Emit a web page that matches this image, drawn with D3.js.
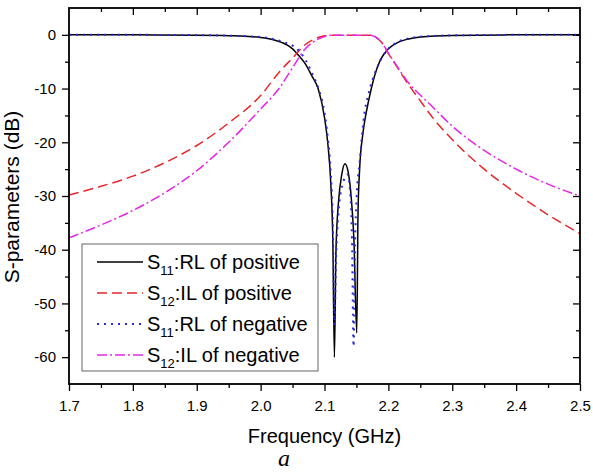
<!DOCTYPE html>
<html>
<head>
<meta charset="utf-8">
<style>
  body { margin: 0; background: #fff; }
  svg text { font-family: "Liberation Sans", Arial, sans-serif; fill: #000; }
  .axis .domain { display: none; }
  .axis line { stroke: #000; stroke-width: 1.3; }
</style>
</head>
<body>
<svg width="593" height="475"></svg>
<script src="https://cdn.jsdelivr.net/npm/d3@7"></script>
<script>

// frequency (GHz) and S-parameter (dB)
var s11PosF  = [1.70, 1.80, 1.90, 1.95, 1.97, 2.00, 2.02, 2.04, 2.05, 2.06, 2.07, 2.08, 2.09, 2.10, 2.105, 2.11, 2.113, 2.1155, 2.118, 2.122, 2.127, 2.132, 2.137, 2.142, 2.146, 2.1505, 2.1525, 2.155, 2.16, 2.163, 2.169, 2.18, 2.187, 2.20, 2.215, 2.23, 2.25, 2.30, 2.40, 2.50];
var s11PosDb = [0, 0, -0.05, -0.15, -0.2, -0.5, -0.9, -1.8, -2.6, -3.9, -5.4, -7.6, -10, -15.4, -20, -28, -38, -60, -40, -31, -26, -24, -25.5, -30.5, -38, -55.5, -33, -25, -18.5, -16, -12.3, -7, -4.8, -2.6, -1.4, -0.8, -0.4, -0.1, 0, 0];

var s12PosF  = [1.70, 1.75, 1.80, 1.85, 1.90, 1.95, 2.00, 2.03, 2.05, 2.07, 2.09, 2.10, 2.11, 2.17, 2.18, 2.19, 2.20, 2.21, 2.22, 2.23, 2.25, 2.27, 2.30, 2.35, 2.40, 2.45, 2.50];
var s12PosDb = [-29.8, -28.2, -26.3, -23.8, -20.6, -16.4, -11.3, -6.8, -4.3, -1.8, -0.5, -0.15, -0.05, -0.05, -0.4, -1.5, -3.5, -5.3, -7.2, -9, -12.3, -15.5, -19.5, -25, -29.5, -33.5, -37];

var s11NegF  = [1.70, 1.80, 1.90, 1.95, 2.00, 2.02, 2.04, 2.05, 2.06, 2.07, 2.08, 2.09, 2.10, 2.105, 2.11, 2.113, 2.1155, 2.118, 2.122, 2.128, 2.136, 2.14, 2.143, 2.1455, 2.148, 2.15, 2.1556, 2.161, 2.17, 2.18, 2.19, 2.20, 2.215, 2.23, 2.25, 2.30, 2.40, 2.50];
var s11NegDb = [0, 0, -0.05, -0.15, -0.4, -0.8, -1.5, -2.0, -3.0, -4.6, -7, -9.8, -14.5, -19, -26, -35, -54, -42, -33, -28, -26, -29, -38, -58, -38, -31, -23, -16, -10.5, -6.8, -4.2, -2.6, -1.3, -0.7, -0.35, -0.1, 0, 0];

var s12NegF  = [1.70, 1.75, 1.80, 1.85, 1.90, 1.95, 2.00, 2.03, 2.05, 2.07, 2.09, 2.10, 2.11, 2.17, 2.18, 2.19, 2.20, 2.21, 2.22, 2.23, 2.25, 2.27, 2.30, 2.35, 2.40, 2.45, 2.50];
var s12NegDb = [-37.8, -35.4, -32.7, -29.4, -25.3, -20, -13.8, -9.8, -6.1, -2.6, -0.8, -0.3, -0.05, -0.05, -0.4, -1.5, -3.4, -5.2, -7, -8.7, -11.2, -13.5, -17, -21.5, -25, -27.8, -30];

var xTicks = [1.7, 1.8, 1.9, 2.0, 2.1, 2.2, 2.3, 2.4, 2.5];
var yTicks = [0, -10, -20, -30, -40, -50, -60];

var series = [
  {sub: "11", name: ":RL of positive", f: s11PosF, db: s11PosDb, color: "#000000", dash: null,       width: 1.5},
  {sub: "12", name: ":IL of positive", f: s12PosF, db: s12PosDb, color: "#e8262b", dash: "10,5",     width: 1.5},
  {sub: "11", name: ":RL of negative", f: s11NegF, db: s11NegDb, color: "#2a2ad4", dash: "2,5",      width: 2},
  {sub: "12", name: ":IL of negative", f: s12NegF, db: s12NegDb, color: "#e626e6", dash: "10,3,2,3", width: 1.5}
];

var svg = d3.select("svg"),
    margin = {top: 8, right: 13, bottom: 91, left: 69},
    width = +svg.attr("width") - margin.left - margin.right,
    height = +svg.attr("height") - margin.top - margin.bottom,
    g = svg.append("g").attr("transform", "translate(" + margin.left + "," + margin.top + ")");

var x = d3.scaleLinear().domain([1.7, 2.5]).range([0, width]);
var y = d3.scaleLinear().domain([-65, 5]).range([height, 0]);

svg.append("defs").append("clipPath").attr("id", "clip")
  .append("rect").attr("width", width).attr("height", height);

var xMinor = [1.75, 1.85, 1.95, 2.05, 2.15, 2.25, 2.35, 2.45];
var yMinor = [-55, -45, -35, -25, -15, -5];
var hyphen = function(d) { return String(d); };

// minor ticks
g.append("g").attr("class", "axis").attr("transform", "translate(0," + height + ")")
  .call(d3.axisBottom(x).tickValues(xMinor).tickSize(4).tickFormat(""));
g.append("g").attr("class", "axis")
  .call(d3.axisBottom(x).tickValues(xMinor).tickSize(4).tickFormat(""));
g.append("g").attr("class", "axis")
  .call(d3.axisLeft(y).tickValues(yMinor).tickSize(4).tickFormat(""));
g.append("g").attr("class", "axis").attr("transform", "translate(" + width + ",0)")
  .call(d3.axisLeft(y).tickValues(yMinor).tickSize(4).tickFormat(""));

// major ticks
g.append("g").attr("class", "axis").attr("transform", "translate(0," + height + ")")
  .call(d3.axisBottom(x).tickValues(xTicks).tickSize(7).tickPadding(9).tickFormat(d3.format(".1f")))
  .selectAll("text").attr("font-size", 15);
g.append("g").attr("class", "axis")
  .call(d3.axisBottom(x).tickValues(xTicks.slice(1, -1)).tickSize(7).tickFormat(""));
g.append("g").attr("class", "axis")
  .call(d3.axisLeft(y).tickValues(yTicks).tickSize(7).tickPadding(6).tickFormat(hyphen))
  .selectAll("text").attr("font-size", 15);
g.append("g").attr("class", "axis").attr("transform", "translate(" + width + ",0)")
  .call(d3.axisLeft(y).tickValues(yTicks).tickSize(7).tickFormat(""));

// curves
var line = d3.line()
  .x(function(d) { return x(d[0]); })
  .y(function(d) { return y(d[1]); })
  .curve(d3.curveMonotoneX);

g.append("g").attr("clip-path", "url(#clip)")
  .selectAll("path")
  .data(series)
  .enter().append("path")
    .attr("fill", "none")
    .attr("stroke", function(d) { return d.color; })
    .attr("stroke-width", function(d) { return d.width; })
    .attr("stroke-dasharray", function(d) { return d.dash; })
    .attr("d", function(d) { return line(d.f.map(function(f, i) { return [f, d.db[i]]; })); });

// frame
g.append("rect")
  .attr("width", width).attr("height", height)
  .attr("fill", "none").attr("stroke", "#000").attr("stroke-width", 1.8);

// legend
var legend = g.append("g").attr("transform", "translate(" + (82 - margin.left) + "," + (244 - margin.top) + ")");
legend.append("rect")
  .attr("width", 236).attr("height", 127)
  .attr("fill", "#fff").attr("stroke", "#666").attr("stroke-width", 1);

var row = legend.selectAll("g.row")
  .data(series)
  .enter().append("g")
    .attr("class", "row")
    .attr("transform", function(d, i) { return "translate(0," + (18 + i * 31) + ")"; });

row.append("line")
  .attr("x1", 15).attr("x2", 61)
  .attr("stroke", function(d) { return d.color; })
  .attr("stroke-width", function(d) { return d.width; })
  .attr("stroke-dasharray", function(d) { return d.dash; });

var lt = row.append("text")
  .attr("x", 65).attr("dy", "0.36em")
  .attr("font-size", 20);
lt.append("tspan").text("S");
lt.append("tspan").attr("font-size", 13).attr("dy", 6).text(function(d) { return d.sub; });
lt.append("tspan").attr("dy", -6).text(function(d) { return d.name; });

// axis titles
svg.append("text")
  .attr("x", margin.left + width / 2).attr("y", 443)
  .attr("text-anchor", "middle").attr("font-size", 20)
  .text("Frequency (GHz)");

svg.append("text")
  .attr("transform", "translate(19,197) rotate(-90)")
  .attr("text-anchor", "middle").attr("font-size", 21)
  .text("S-parameters (dB)");

svg.append("text")
  .attr("x", 284).attr("y", 466)
  .attr("text-anchor", "middle")
  .attr("font-style", "italic").attr("font-size", 24)
  .style("font-family", "'Liberation Serif', serif")
  .text("a");

</script>
</body>
</html>
